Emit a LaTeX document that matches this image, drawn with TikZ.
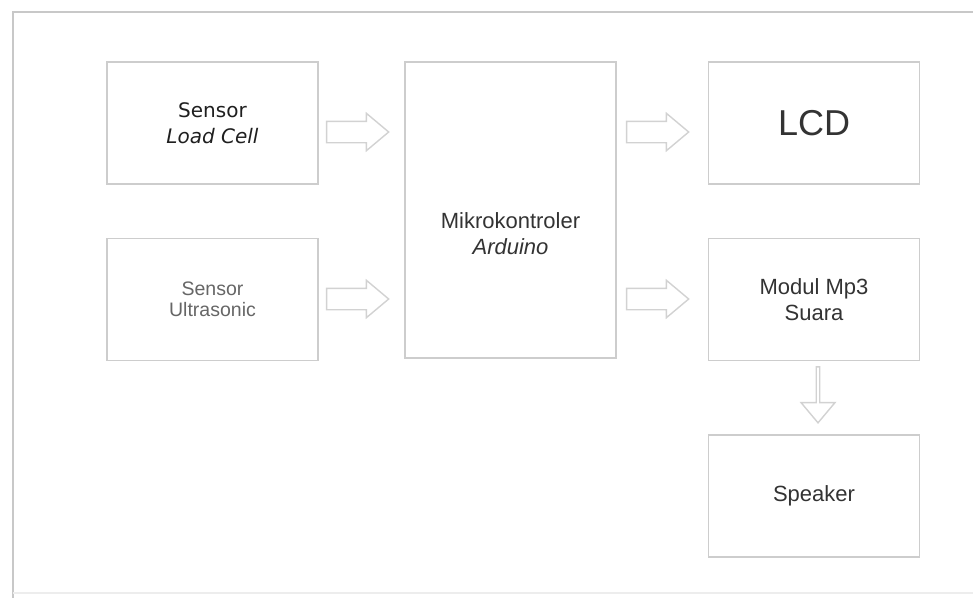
\documentclass[tikz,border=0pt]{standalone}
\usepackage{fontspec}
\setmainfont{Liberation Sans}
\newfontfamily\dejavu{DejaVu Sans}
\usetikzlibrary{shapes.arrows,calc}
\definecolor{boxline}{HTML}{CDCDCD}
\definecolor{arrowline}{HTML}{D2D2D2}
\definecolor{framecol}{HTML}{C8C8C8}
\definecolor{txt}{HTML}{333333}
\begin{document}
\begin{tikzpicture}[x=1pt,y=-1pt,
  box/.style={draw=boxline,line width=1.6pt,minimum width=211pt,minimum height=122pt,inner sep=0pt,align=center,text=txt,font=\fontsize{22}{26}\selectfont},
  plain/.style={inner sep=0pt,align=center,text=txt,font=\fontsize{22}{26}\selectfont},
  barrow/.style={single arrow,draw=arrowline,line width=1.4pt,fill=white,minimum height=62pt,minimum width=36pt,inner xsep=0pt,inner ysep=10pt,single arrow head extend=8pt,single arrow tip angle=80},
  darrow/.style={barrow,minimum height=56pt,minimum width=34pt,inner ysep=11pt,single arrow head extend=6pt,shape border rotate=270}
]
\useasboundingbox (0,0) rectangle (973,598);
\fill[white] (0,0) rectangle (973,598);
\draw[framecol,line width=2pt] (973,12) -- (13,12) -- (13,598);
\draw[black!7,line width=1.5pt] (13,593) -- (973,593);

\node[box] (lc) at (212.5,123) {{\dejavu\fontsize{20}{25}\selectfont\color{black!88}Sensor}\\{\dejavu\fontsize{20}{25}\selectfont\itshape\color{black!88}Load Cell}};
\node[box,font=\fontsize{19.5}{21}\selectfont,text=black!60] (us) at (212.5,299.5) {Sensor\\Ultrasonic};
\node[box,minimum height=296pt] (mk) at (510.5,210) {};
\node[plain] (mkt) at ($(mk.center)+(0,24)$) {Mikrokontroler\\\itshape Arduino};
\node[box,font=\fontsize{36}{40}\selectfont] (lcd) at (814,123) {LCD};
\node[box] (mp3) at (814,299.5) {Modul Mp3\\Suara};
\node[box] (spk) at (814,496) {Speaker};

\node[barrow] (a1) at ($(lc.east)+(32.5,9)$) {};
\node[barrow] (a2) at ($(us.east)+(32.5,-0.5)$) {};
\node[barrow] (a3) at ($(mk.east |- lcd.west)+(34.5,9)$) {};
\node[barrow] (a4) at ($(mk.east |- mp3.west)+(34.5,-0.5)$) {};
\node[darrow] (a5) at ($(mp3.south)!0.5!(spk.north)+(4,-4)$) {};
\end{tikzpicture}
\end{document}
